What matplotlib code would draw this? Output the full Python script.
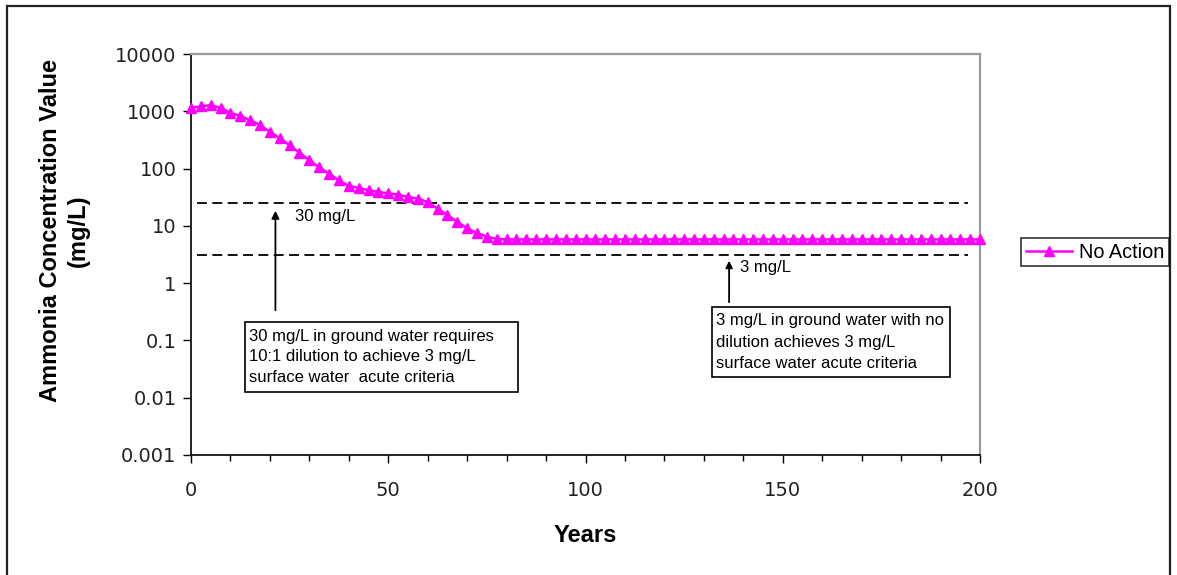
import matplotlib
matplotlib.use("Agg")
import matplotlib.pyplot as plt
from matplotlib.patches import Rectangle
from matplotlib.ticker import FixedLocator, NullFormatter, NullLocator

plt.rcParams['font.family'] = ['Liberation Sans', 'DejaVu Sans']

# ---- data ----
years = [0, 2.5, 5, 7.5, 10, 12.5, 15, 17.5, 20, 22.5, 25, 27.5, 30, 32.5, 35,
         37.5, 40, 42.5, 45, 47.5, 50, 52.5, 55, 57.5, 60, 62.5, 65, 67.5, 70,
         72.5, 75, 77.5] + [80 + 2.5 * i for i in range(49)]
conc = [1150, 1220, 1280, 1150, 940, 830, 700, 575, 440, 340, 255, 190, 140,
        105, 82, 62, 50, 46, 42, 39, 37, 35, 32, 30, 26, 20, 15.5, 11.8, 9.1,
        7.5, 6.5, 5.9] + [5.8] * 49
series_name = "No Action"
line_30 = 25.0
line_3 = 3.1
ytick_vals = [0.001, 0.01, 0.1, 1, 10, 100, 1000, 10000]
ytick_labels = ["0.001", "0.01", "0.1", "1", "10", "100", "1000", "10000"]
xtick_vals = [0, 50, 100, 150, 200]
note_left = "30 mg/L in ground water requires\n10:1 dilution to achieve 3 mg/L\nsurface water  acute criteria"
note_right = "3 mg/L in ground water with no\ndilution achieves 3 mg/L\nsurface water acute criteria"

W, H = 1177, 575
fig = plt.figure(figsize=(W / 100, H / 100), dpi=100)
fig.patch.set_facecolor('white')


def fx(px):
    return px / W


def fy(py):
    return 1 - py / H


# outer frame
fig.add_artist(Rectangle((fx(7), -0.02), 1163 / W, fy(6) + 0.02, transform=fig.transFigure,
                         fill=False, edgecolor='#222222', linewidth=1.6))

ax = fig.add_axes([fx(191), fy(455), (980 - 191) / W, (455 - 54) / H])
ax.set_yscale('log')
ax.set_xlim(0, 200)
ax.set_ylim(0.001, 10000)

ax.plot(years, conc, color='#FF00FF', linewidth=1.8, marker='^', markersize=7.5,
        markeredgecolor='#FF00FF', markerfacecolor='#FF00FF', label=series_name,
        clip_on=False, zorder=3)

dash = (0, (5.5, 3))
ax.plot([1.5, 197], [line_30, line_30], color='black', linewidth=1.3, linestyle=dash, zorder=2)
ax.plot([1.5, 197], [line_3, line_3], color='black', linewidth=1.3, linestyle=dash, zorder=2)

# ticks
ax.yaxis.set_major_locator(FixedLocator(ytick_vals))
ax.set_yticklabels(ytick_labels)
ax.yaxis.set_minor_locator(NullLocator())
ax.yaxis.set_minor_formatter(NullFormatter())
ax.set_xticks(xtick_vals)
ax.xaxis.set_minor_locator(FixedLocator(list(range(0, 201, 10))))
ax.tick_params(axis='both', which='major', direction='out', length=6, width=1,
               labelsize=14, colors='black', labelcolor='#222222')
ax.tick_params(axis='y', which='major', pad=4.5)
ax.tick_params(axis='x', which='major', pad=13)
ax.tick_params(axis='x', which='minor', direction='out', length=4.5, width=1)
for lab in ax.get_xticklabels() + ax.get_yticklabels():
    lab.set_fontfamily('DejaVu Sans')

for s in ['top', 'right']:
    ax.spines[s].set_color('#9a9a9a')
    ax.spines[s].set_linewidth(1.6)
for s in ['left', 'bottom']:
    ax.spines[s].set_color('black')
    ax.spines[s].set_linewidth(1.2)

ax.set_xlabel("Years", fontsize=17, fontweight='bold', labelpad=17)
ax.set_ylabel("Ammonia Concentration Value\n(mg/L)", fontsize=17, fontweight='bold',
              linespacing=1.25)
ax.yaxis.set_label_coords((90 - 191) / 789, (455 - 231) / 401)

# annotations
ax.annotate("", xy=(21.4, 20.5), xytext=(21.4, 0.30),
            arrowprops=dict(arrowstyle='-|>', color='black', lw=1.3, mutation_scale=11))
ax.text(26.4, 14.3, "30 mg/L", fontsize=12, va='center', ha='left')

ax.annotate("", xy=(136.4, 2.75), xytext=(136.4, 0.416),
            arrowprops=dict(arrowstyle='-|>', color='black', lw=1.3, mutation_scale=10))
ax.text(139.2, 1.91, "3 mg/L", fontsize=12, va='center', ha='left')

# note boxes (figure pixel geometry)
fig.add_artist(Rectangle((fx(245), fy(392)), (518 - 245) / W, (392 - 322) / H,
                         transform=fig.transFigure, facecolor='white', edgecolor='black',
                         linewidth=1.2, zorder=4))
fig.text(fx(249), fy(357), note_left, fontsize=12, va='center', ha='left',
         linespacing=1.5, zorder=5)
fig.add_artist(Rectangle((fx(712), fy(377)), (950 - 712) / W, (377 - 307) / H,
                         transform=fig.transFigure, facecolor='white', edgecolor='black',
                         linewidth=1.2, zorder=4))
fig.text(fx(716), fy(342), note_right, fontsize=12, va='center', ha='left',
         linespacing=1.5, zorder=5)

leg = fig.legend(loc='center left', bbox_to_anchor=(fx(1021), fy(252)), fontsize=14.3,
                 frameon=True, fancybox=False, edgecolor='black', handlelength=2.3,
                 borderpad=0.25, handletextpad=0.35, borderaxespad=0)
leg.get_frame().set_linewidth(1.2)

fig.savefig("out.png", dpi=100)
